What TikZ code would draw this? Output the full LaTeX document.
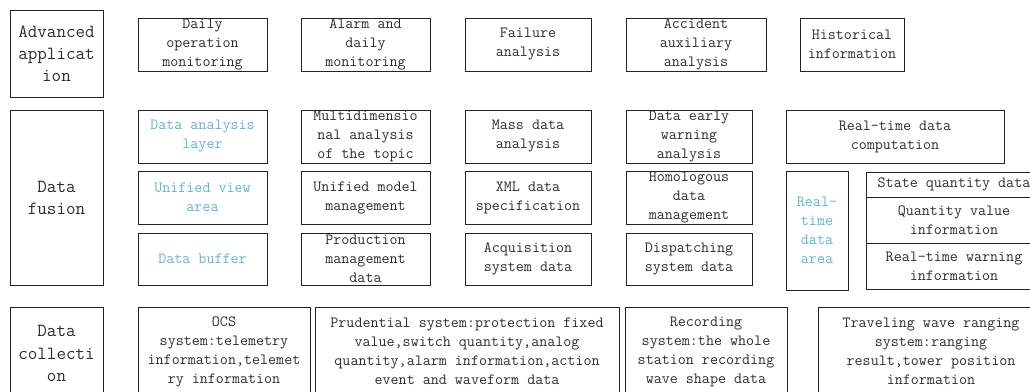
\documentclass[tikz,border=0pt]{standalone}
\usepackage{tikz}
\definecolor{boxline}{RGB}{35,35,35}
\definecolor{txt}{RGB}{45,45,45}
\definecolor{lblue}{RGB}{95,180,210}
\tikzset{
  box/.style={draw=boxline, line width=0.7pt, inner sep=0pt, align=center, text=txt,
    font=\ttfamily\fontsize{11.7pt}{14.25pt}\selectfont},
  bigbox/.style={box, font=\ttfamily\fontsize{13.9pt}{16.6pt}\selectfont},
  bluetxt/.style={text=lblue}
}
\newcommand\mybox[7]{%
  \node[box,#6,minimum width={(#4-#2)*0.75pt},minimum height={(#5-#3)*0.75pt}]
    (#1) at ({(#2+#4)/2},{(#3+#5)/2}) {#7};}
\begin{document}
\begin{tikzpicture}[x=0.75pt,y=-0.75pt]
\useasboundingbox (0,0) rectangle (1030,392);
\clip (0,0) rectangle (1030,392);
% Row 1
\mybox{adv}{10}{10}{103}{97}{bigbox}{Advanced\\applicat\\ion}
\mybox{dom}{138}{18}{267}{71}{}{Daily\\operation\\monitoring}
\mybox{adm}{301}{18}{430}{71}{}{Alarm and\\daily\\monitoring}
\mybox{fa}{465}{18}{591}{71}{}{Failure\\analysis}
\mybox{aaa}{626}{18}{766}{71}{}{Accident\\auxiliary\\analysis}
\mybox{hi}{800}{18}{904}{71}{}{Historical\\information}
% Row 2
\mybox{df}{10}{110}{103}{285}{bigbox}{Data\\fusion}
\mybox{dal}{138}{110}{267}{163}{bluetxt}{Data analysis\\layer}
\mybox{uva}{138}{171}{267}{224}{bluetxt}{Unified view\\area}
\mybox{db}{138}{233}{267}{285}{bluetxt}{Data buffer}
\mybox{mat}{301}{110}{430}{163}{}{Multidimensio\\nal analysis\\of the topic}
\mybox{umm}{301}{171}{430}{224}{}{Unified model\\management}
\mybox{pmd}{301}{233}{430}{285}{}{Production\\management\\data}
\mybox{mda}{465}{110}{591}{163}{}{Mass data\\analysis}
\mybox{xml}{465}{171}{591}{224}{}{XML data\\specification}
\mybox{asd}{465}{233}{591}{285}{}{Acquisition\\system data}
\mybox{dew}{626}{110}{752}{163}{}{Data early\\warning\\analysis}
\mybox{hdm}{626}{171}{752}{224}{}{Homologous\\data\\management}
\mybox{dsd}{626}{233}{752}{285}{}{Dispatching\\system data}
\mybox{rtc}{786}{110}{1004}{163}{}{Real-time data\\computation}
\mybox{rta}{786}{171}{848}{290}{bluetxt}{Real-\\time\\data\\area}
\mybox{sqd}{866}{172}{1042}{197}{}{State quantity data}
\mybox{qvi}{866}{197}{1042}{243}{}{Quantity value\\information}
\mybox{rtw}{866}{243}{1042}{289}{}{Real-time warning\\information}
% Row 3
\mybox{dc}{10}{307}{103}{400}{bigbox}{Data\\collecti\\on}
\mybox{ocs}{138}{307}{310}{396}{}{OCS\\system:telemetry\\information,telemet\\ry information}
\mybox{ps}{315}{307}{619}{396}{}{Prudential system:protection fixed\\value,switch quantity,analog\\quantity,alarm information,action\\event and waveform data}
\mybox{rs}{625}{307}{787}{396}{}{Recording\\system:the whole\\station recording\\wave shape data}
\mybox{tw}{818}{307}{1044}{396}{}{Traveling wave ranging\\system:ranging\\result,tower position\\information}
\end{tikzpicture}
\end{document}
